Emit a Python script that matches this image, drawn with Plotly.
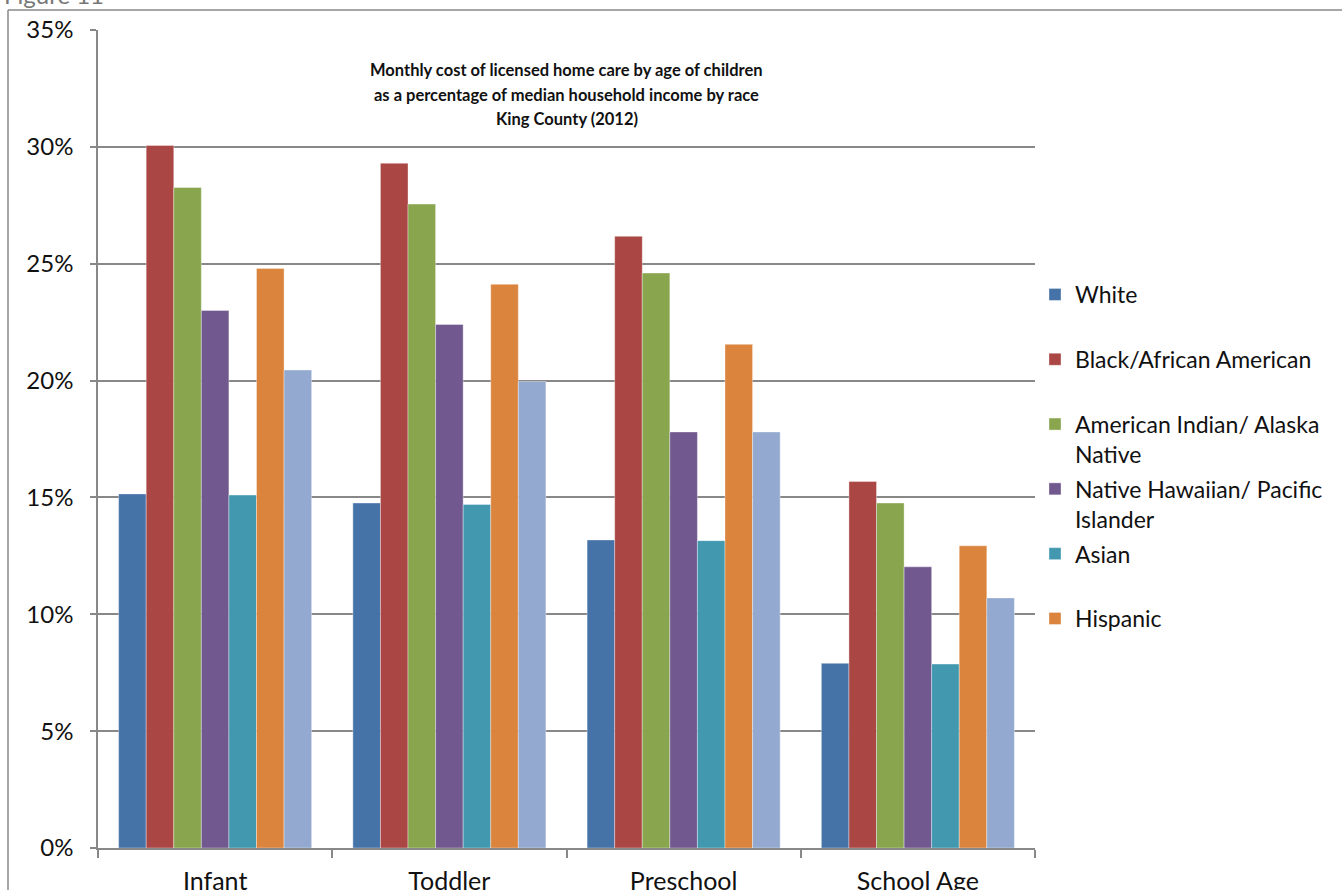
import plotly.graph_objects as go

categories = ["Infant", "Toddler", "Preschool", "School Age"]

NB = "\u00a0"
series_names = [
    "White<br>" + NB,
    "Black/African American<br>" + NB,
    "American Indian/ Alaska<br>Native",
    "Native Hawaiian/ Pacific<br>Islander",
    "Asian<br>" + NB,
    "Hispanic<br>" + NB,
    "Two or More Races",
]
white = [15.15, 14.76, 13.18, 7.90]
black = [30.06, 29.30, 26.17, 15.68]
am_indian = [28.26, 27.55, 24.60, 14.76]
nh_pi = [23.00, 22.40, 17.80, 12.03]
asian = [15.10, 14.70, 13.15, 7.87]
hispanic = [24.80, 24.12, 21.55, 12.93]
two_more = [20.45, 19.96, 17.80, 10.70]
series_values = [white, black, am_indian, nh_pi, asian, hispanic, two_more]
show_in_legend = [True, True, True, True, True, True, False]

colors = ["#4572A7", "#AA4643", "#89A54E", "#71588F", "#4198AF", "#DB843D", "#93A9CF"]

y_ticks = [0, 5, 10, 15, 20, 25, 30, 35]
y_tick_labels = ["0%", "5%", "10%", "15%", "20%", "25%", "30%", "35%"]

title_lines = [
    "Monthly cost of licensed home care by age of children",
    "as a percentage of median household income by race",
    "King County (2012)",
]

FONT = "Lato"

# pixel geometry of the plot area
L, R, T, B = 98, 1035, 30, 848
PW, PH = R - L, B - T


def px_x(p):
    return (p - L) / PW


def px_y(p):
    return (B - p) / PH


fig = go.Figure()
for i, (name, vals) in enumerate(zip(series_names, series_values)):
    fig.add_trace(go.Bar(
        x=categories, y=vals, name=name,
        marker=dict(color=colors[i], line=dict(color="rgba(255,255,255,0.6)", width=0.6)),
        showlegend=show_in_legend[i],
        legendgroup="g%d" % i,
    ))

fig.update_layout(
    width=1342, height=890,
    margin=dict(l=L, r=1342 - R, t=T, b=890 - B, autoexpand=False),
    paper_bgcolor="white", plot_bgcolor="white",
    barmode="group", bargap=0.176, bargroupgap=0,
    font=dict(family=FONT, color="#111111"),
    legend=dict(
        x=1.0, xanchor="left", y=px_y(273), yanchor="top",
        font=dict(size=23, family=FONT, color="#111111"),
        tracegroupgap=2, valign="top", itemwidth=30,
        bgcolor="rgba(0,0,0,0)",
    ),
    xaxis=dict(
        showline=True, linecolor="#888888", linewidth=1.5,
        ticks="outside", tickson="boundaries", ticklen=8, tickcolor="#888888", tickwidth=1.5,
        tickfont=dict(size=25, family=FONT, color="#111111"),
        showgrid=False, ticklabelstandoff=10, automargin=False,
    ),
    yaxis=dict(
        range=[0, 35], tickvals=y_ticks, ticktext=y_tick_labels,
        showline=True, linecolor="#888888", linewidth=1.5,
        ticks="outside", ticklen=6, tickcolor="#888888", tickwidth=1.5,
        tickfont=dict(size=24, family=FONT, color="#111111"),
        showgrid=True, gridcolor="#888888", gridwidth=1.5,
        zeroline=False, ticklabelstandoff=12, automargin=False,
    ),
)

for line, ypix in zip(title_lines, [70, 95, 119]):
    fig.add_annotation(
        xref="paper", yref="paper", x=0.5, y=px_y(ypix), xanchor="center", yanchor="middle",
        text="<b>" + line + "</b>", showarrow=False,
        font=dict(size=16.5, family=FONT, color="#111111"),
    )

fig.add_annotation(
    xref="paper", yref="paper", x=px_x(2), y=px_y(11), xanchor="left", yanchor="bottom",
    text="Figure 11", showarrow=False, font=dict(size=24, family=FONT, color="#777777"),
)

# outer frame of the figure box
fig.add_shape(type="line", xref="paper", yref="paper",
              x0=px_x(8), x1=px_x(8), y0=px_y(900), y1=px_y(10),
              line=dict(color="#888888", width=1.5))
fig.add_shape(type="line", xref="paper", yref="paper",
              x0=px_x(8), x1=px_x(1400), y0=px_y(10), y1=px_y(10),
              line=dict(color="#888888", width=1.5))

fig.write_html("out.html", config={"displayModeBar": False},
               post_script="document.body.style.margin='0px';")
